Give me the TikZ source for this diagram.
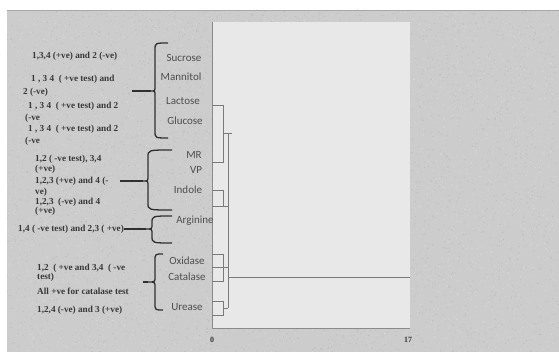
\documentclass[tikz,border=0pt]{standalone}
\usepackage{fontspec}
\setmainfont{Liberation Serif}
\newfontfamily\lblfont{Carlito}
\definecolor{bgc}{HTML}{CCCCCC}
\definecolor{bgdark}{HTML}{BDBDBD}
\definecolor{bglight}{HTML}{D9D9D9}
\definecolor{bgedge}{HTML}{A8A8A8}
\definecolor{panelc}{HTML}{E8E8E8}
\definecolor{axisc}{HTML}{8A8A8A}
\definecolor{dendc}{HTML}{7A7A7A}
\definecolor{txtc}{HTML}{383838}
\definecolor{lblc}{HTML}{4E4E4E}
\definecolor{bracec}{HTML}{303030}
\newcommand\mybrace[6]{%
  \draw[bracestyle] (#6,#2) .. controls (#1,#2) .. (#1,#2+7) -- (#1,#4-5)
    .. controls (#1,#4) .. (#5,#4) .. controls (#1,#4) .. (#1,#4+5)
    -- (#1,#3-7) .. controls (#1,#3) .. (#6,#3);}
\tikzset{
  lt/.style={anchor=west, inner sep=0pt, text=txtc, font=\fontsize{9.2}{11}\selectfont\bfseries},
  rl/.style={inner sep=0pt, text=lblc, font=\lblfont\fontsize{11}{13}\selectfont},
  bracestyle/.style={draw=bracec, line width=1.3pt},
  tieline/.style={draw=bracec, line width=1.8pt},
  dend/.style={draw=dendc, line width=0.9pt},
  axisline/.style={draw=axisc, line width=0.8pt},
  ticklbl/.style={inner sep=0pt, text=txtc, font=\fontsize{8}{9}\selectfont\bfseries}
}
\begin{document}
\begin{tikzpicture}[x=1pt,y=-1pt]
\useasboundingbox (0,0) rectangle (559,352);
\fill[white] (0,0) rectangle (559,352);
\fill[bgc] (7,10) rectangle (559,352);
% fine speckle texture
\pgfmathsetseed{7}
\begin{scope}
\clip (7,10) rectangle (559,352);
\foreach \k in {1,...,3500} {
  \pgfmathsetmacro{\px}{7+552*rnd}
  \pgfmathsetmacro{\py}{10+342*rnd}
  \fill[bgdark] (\px,\py) circle (0.6pt);
}
\foreach \k in {1,...,3000} {
  \pgfmathsetmacro{\px}{7+552*rnd}
  \pgfmathsetmacro{\py}{10+342*rnd}
  \fill[bglight] (\px,\py) circle (0.6pt);
}
\end{scope}
\draw[bgedge, line width=0.8pt] (7,10) -- (559,10);
\fill[panelc] (212,22) rectangle (410,328);
\draw[axisline] (212,22) -- (212,328) -- (410,328);

% right labels
\node[rl] (sucrose) at (184,58) {Sucrose};
\node[rl] (mannitol) at (181,77) {Mannitol};
\node[rl] (lactose) at (183,101) {Lactose};
\node[rl] (glucose) at (185,121) {Glucose};
\node[rl] (mr) at (194,155) {MR};
\node[rl] (vp) at (196,170) {VP};
\node[rl] (indole) at (188,190) {Indole};
\node[rl] (arginine) at (195,221) {Arginine};
\node[rl] (oxidase) at (187,261) {Oxidase};
\node[rl] (catalase) at (187,277) {Catalase};
\node[rl] (urease) at (187,307) {Urease};

% left texts
\node[lt] (l1) at (32,56) {1,3,4 (+ve) and 2 (-ve)};
\node[lt] (l2a) at (31,79) {1 , 3 4 \ ( +ve test) and};
\node[lt] (l2b) at (23,92) {2 (-ve)};
\node[lt] (l3a) at (28,106) {1 , 3 4 \ ( +ve test) and 2};
\node[lt] (l3b) at (25,118) {(-ve};
\node[lt] (l4a) at (28,129) {1 , 3 4 \ ( +ve test) and 2};
\node[lt] (l4b) at (25,141) {(-ve};
\node[lt] (m1a) at (35,159) {1,2 ( -ve test), 3,4};
\node[lt] (m1b) at (35,169) {(+ve)};
\node[lt] (m2a) at (35,181) {1,2,3 (+ve) and 4 (-};
\node[lt] (m2b) at (35,192) {ve)};
\node[lt] (m3a) at (35,202) {1,2,3 \ (-ve) and 4};
\node[lt] (m3b) at (35,211) {(+ve)};
\node[lt] (n1) at (18,229) {1,4 ( -ve test) and 2,3 ( +ve)};
\node[lt] (o1a) at (37,268) {1,2 \ ( +ve and 3,4 \ ( -ve};
\node[lt] (o1b) at (37,277) {test)};
\node[lt] (o2) at (37,291) {All +ve for catalase test};
\node[lt] (o3) at (37,310) {1,2,4 (-ve) and 3 (+ve)};

% braces
\mybrace{155}{43}{138}{91}{151}{168}
\mybrace{148}{150}{210}{181}{143}{172}
\mybrace{152}{216}{243}{229}{146}{172}
\mybrace{155}{254}{310}{282}{148}{163}
\coordinate (t1) at (151,91);
\coordinate (s1) at (132,91);
\coordinate (t2) at (143,181);
\coordinate (s2) at (120,181);
\coordinate (t3) at (146,229);
\coordinate (t4) at (148,282);
\coordinate (s4) at (143,282);
\draw[tieline] (s1) -- (t1);
\draw[tieline] (s2) -- (t2);
\draw[tieline] (n1.east) -- (t3);
\draw[tieline] (s4) -- (t4);

% dendrogram
\draw[dend] (212,105) -- (223,105) -- (223,162) -- (212,162);
\draw[dend] (223,133) -- (232,133);
\draw[dend] (228,133) -- (228,308);
\draw[dend] (212,190) -- (223,190) -- (223,206) -- (212,206);
\draw[dend] (223,206) -- (228,206);
\draw[dend] (212,254) -- (223,254) -- (223,281) -- (212,281);
\draw[dend] (212,267) -- (228,267);
\draw[dend] (228,277) -- (410,277);
\draw[dend] (212,301) -- (223,301) -- (223,315) -- (212,315);
\draw[dend] (223,308) -- (228,308);

% axis tick labels
\node[ticklbl] (x0) at (212,340) {0};
\node[ticklbl] (x17) at (408,340) {17};
\end{tikzpicture}
\end{document}
